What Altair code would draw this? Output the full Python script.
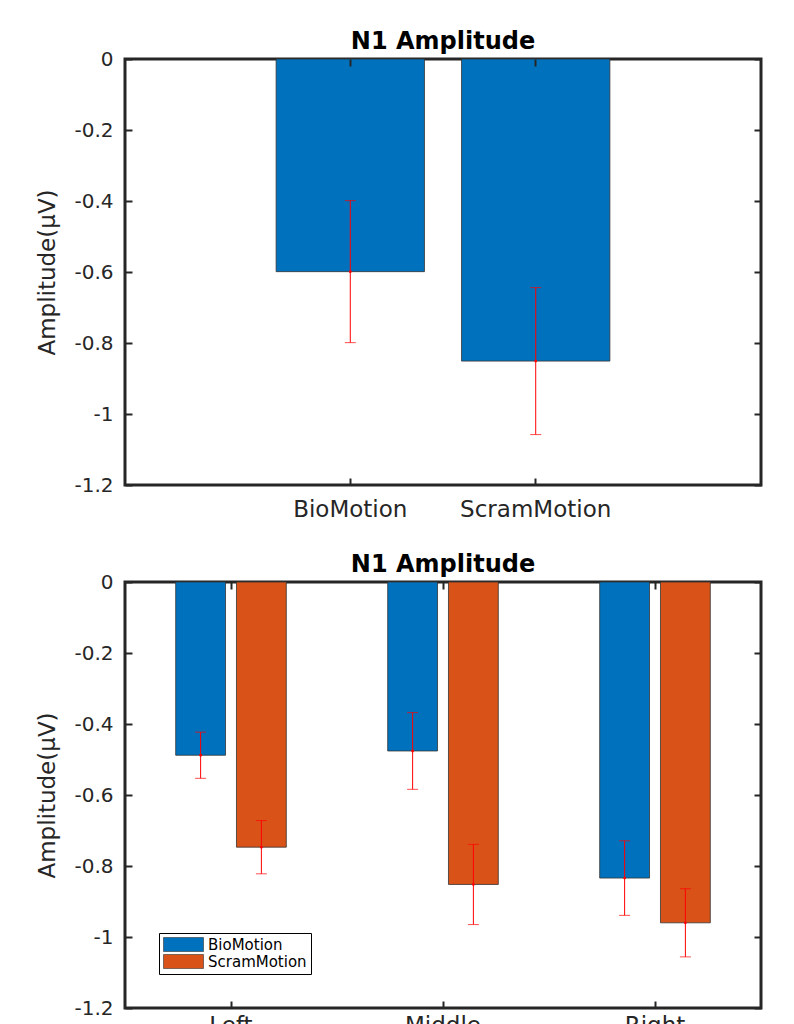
import altair as alt
import pandas as pd

# ---------------- data ----------------
top_conditions = ["BioMotion", "ScramMotion"]
top_means = [-0.599, -0.851]
top_errors = [0.200, 0.207]

regions = ["Left", "Middle", "Right"]
conds = ["BioMotion", "ScramMotion"]
bio_means = [-0.488, -0.476, -0.834]
bio_errors = [0.065, 0.108, 0.105]
scram_means = [-0.747, -0.852, -0.960]
scram_errors = [0.075, 0.113, 0.096]

y_ticks = [-1.2, -1.0, -0.8, -0.6, -0.4, -0.2, 0.0]

FONT = "DejaVu Sans"
TXT = "#262626"
BLUE = "#0072BD"
ORANGE = "#D95319"
RED = "#FF0000"

top_df = pd.DataFrame({"cond": top_conditions, "mean": top_means, "err": top_errors})
top_df["lo"] = top_df["mean"] - top_df["err"]
top_df["hi"] = top_df["mean"] + top_df["err"]

rows = []
for i, r in enumerate(regions):
    rows.append({"region": r, "cond": conds[0], "mean": bio_means[i], "err": bio_errors[i]})
    rows.append({"region": r, "cond": conds[1], "mean": scram_means[i], "err": scram_errors[i]})
bot_df = pd.DataFrame(rows)
bot_df["lo"] = bot_df["mean"] - bot_df["err"]
bot_df["hi"] = bot_df["mean"] + bot_df["err"]

W, H = 636, 426


def yscale():
    return alt.Scale(domain=[-1.2, 0], nice=False)


def left_axis():
    return alt.Axis(orient="left", offset=-7, tickSize=7, tickWidth=2, tickColor=TXT,
                    domain=False, grid=False, values=y_ticks,
                    labelExpr="'' + datum.value", labelFont=FONT, labelFontSize=20,
                    labelColor=TXT, labelPadding=12, title="Amplitude(μV)",
                    titleFont=FONT, titleFontSize=23, titleFontWeight="normal",
                    titleColor=TXT, titlePadding=14, zindex=1)


def right_axis():
    return alt.Axis(orient="right", offset=-7, tickSize=7, tickWidth=2, tickColor=TXT,
                    domain=False, grid=False, values=y_ticks, labels=False,
                    title=None, zindex=1, minExtent=0, maxExtent=0)


def bottom_axis(pad):
    return alt.Axis(orient="bottom", offset=-7, tickSize=7, tickWidth=2, tickColor=TXT,
                    domain=False, grid=False, labelAngle=0, labelFont=FONT,
                    labelFontSize=23, labelColor=TXT, labelPadding=pad, title=None,
                    zindex=1)


def top_axis():
    return alt.Axis(orient="top", offset=-7, tickSize=7, tickWidth=2, tickColor=TXT,
                    domain=False, grid=False, labels=False, title=None, zindex=1,
                    minExtent=0, maxExtent=0)


def title(txt):
    return alt.TitleParams(txt, font=FONT, fontSize=24, fontWeight="bold", color="black",
                           offset=-24, baseline="alphabetic", anchor="middle")


# ---------------- top chart ----------------
tx = dict(sort=top_conditions, scale=alt.Scale(paddingInner=0.2, paddingOuter=0.815))
tbase = alt.Chart(top_df)
t_bars = tbase.mark_bar(color=BLUE, stroke="#333333", strokeWidth=0.8).encode(
    x=alt.X("cond:N", axis=bottom_axis(13), **tx),
    y=alt.Y("mean:Q", scale=yscale(), axis=left_axis()),
)
t_axes = tbase.mark_bar(opacity=0).encode(
    x=alt.X("cond:N", axis=top_axis(), **tx),
    y=alt.Y("mean:Q", scale=yscale(), axis=right_axis()),
)
t_rule = tbase.mark_rule(color=RED, strokeWidth=1).encode(
    x=alt.X("cond:N", axis=None, **tx),
    y=alt.Y("lo:Q", scale=yscale(), axis=None),
    y2="hi:Q",
)
t_cap_lo = tbase.mark_tick(color=RED, thickness=1, size=11).encode(
    x=alt.X("cond:N", axis=None, **tx),
    y=alt.Y("lo:Q", scale=yscale(), axis=None),
)
t_cap_hi = tbase.mark_tick(color=RED, thickness=1, size=11).encode(
    x=alt.X("cond:N", axis=None, **tx),
    y=alt.Y("hi:Q", scale=yscale(), axis=None),
)
t_dot = tbase.mark_point(color=RED, filled=True, size=8, opacity=1).encode(
    x=alt.X("cond:N", axis=None, **tx),
    y=alt.Y("mean:Q", scale=yscale(), axis=None),
)
top = alt.layer(t_bars, t_axes, t_rule, t_cap_lo, t_cap_hi, t_dot).resolve_axis(
    x="independent", y="independent"
).properties(width=W, height=H, title=title("N1 Amplitude"))

# ---------------- bottom chart ----------------
bx = dict(sort=regions, scale=alt.Scale(paddingInner=0, paddingOuter=0))
bo = alt.XOffset("cond:N", sort=conds, scale=alt.Scale(paddingInner=0.18, paddingOuter=0.834))
bbase = alt.Chart(bot_df)
legend = alt.Legend(title=None, orient="bottom-left", offset=34, padding=4,
                    strokeColor="black", fillColor="white",
                    symbolType="M-1,-1H4.714V1H-1Z", symbolSize=196,
                    symbolStrokeColor="#333333", symbolStrokeWidth=0.6,
                    labelFont=FONT, labelFontSize=15, labelColor="black",
                    labelOffset=30, rowPadding=0, symbolOpacity=1)
b_bars = bbase.mark_bar(stroke="#333333", strokeWidth=0.8, opacity=1).encode(
    x=alt.X("region:N", axis=bottom_axis(6), **bx),
    xOffset=bo,
    y=alt.Y("mean:Q", scale=yscale(), axis=left_axis()),
    color=alt.Color("cond:N", scale=alt.Scale(domain=conds, range=[BLUE, ORANGE]),
                    legend=legend),
)
b_axes = bbase.mark_bar(opacity=0).encode(
    x=alt.X("region:N", axis=top_axis(), **bx),
    y=alt.Y("mean:Q", scale=yscale(), axis=right_axis()),
)
b_rule = bbase.mark_rule(color=RED, strokeWidth=1).encode(
    x=alt.X("region:N", axis=None, **bx),
    xOffset=bo,
    y=alt.Y("lo:Q", scale=yscale(), axis=None),
    y2="hi:Q",
)
b_cap_lo = bbase.mark_tick(color=RED, thickness=1, size=11).encode(
    x=alt.X("region:N", axis=None, **bx),
    xOffset=bo,
    y=alt.Y("lo:Q", scale=yscale(), axis=None),
)
b_cap_hi = bbase.mark_tick(color=RED, thickness=1, size=11).encode(
    x=alt.X("region:N", axis=None, **bx),
    xOffset=bo,
    y=alt.Y("hi:Q", scale=yscale(), axis=None),
)
b_dot = bbase.mark_point(color=RED, filled=True, size=8, opacity=1).encode(
    x=alt.X("region:N", axis=None, **bx),
    xOffset=bo,
    y=alt.Y("mean:Q", scale=yscale(), axis=None),
)
bottom = alt.layer(b_bars, b_axes, b_rule, b_cap_lo, b_cap_hi, b_dot).resolve_axis(
    x="independent", y="independent"
).properties(width=W, height=H, title=title("N1 Amplitude"))

chart = alt.vconcat(top, bottom, spacing=28).resolve_legend(
    color="independent"
).resolve_scale(color="independent").properties(
    padding={"left": 27, "top": 20, "right": 5, "bottom": 5}
).configure_view(stroke=TXT, strokeWidth=3)

chart.save("out.html", embed_options={"renderer": "svg", "actions": False})
